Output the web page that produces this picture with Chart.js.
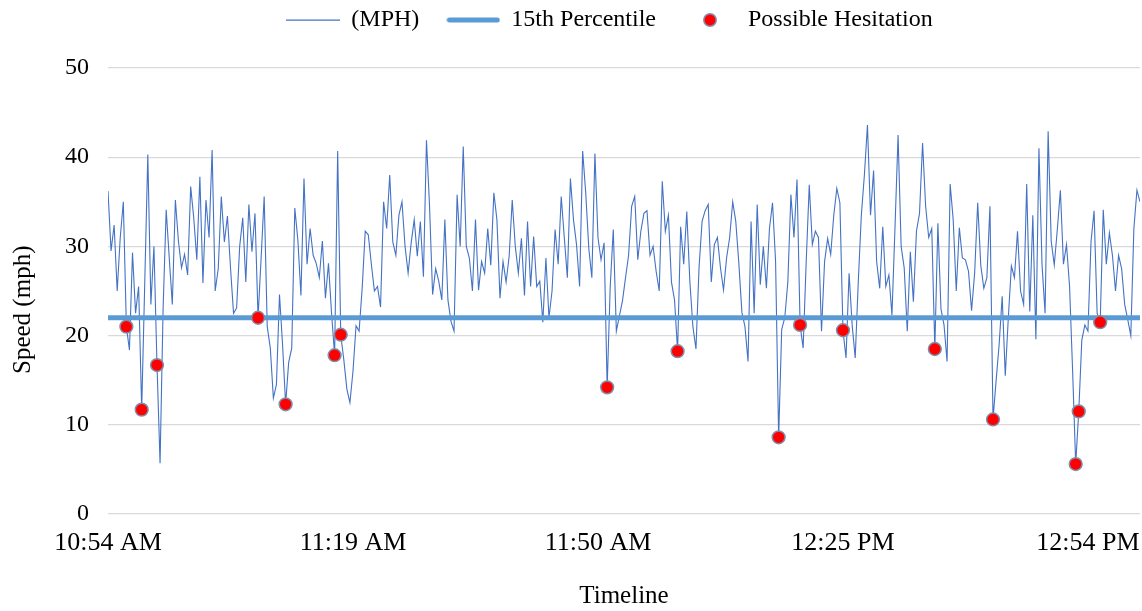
<!DOCTYPE html>
<html>
<head>
<meta charset="utf-8">
<script src="https://cdn.jsdelivr.net/npm/chart.js@4"></script>
<style>
    html, body { margin: 0; padding: 0; background: #fff; }
</style>
</head>
<body>
<canvas id="graficoVelocidade" width="1142" height="611"></canvas>
<script>
// Speed samples (mph), one per step along the timeline
const mph = [
    36.2, 29.5, 32.4, 25.0, 31.0, 35.0, 21.0, 18.4, 29.3, 22.5,
    25.5, 11.7, 25.9, 40.3, 23.5, 30.0, 16.7, 5.7, 23.1, 34.1,
    28.7, 23.5, 35.2, 30.6, 27.6, 29.1, 26.8, 36.7, 33.2, 28.5,
    37.8, 25.9, 35.2, 31.0, 40.8, 25.0, 27.5, 35.6, 30.5, 33.4,
    27.6, 22.5, 23.1, 30.0, 33.2, 26.0, 34.7, 29.4, 33.7, 22.0,
    28.7, 35.6, 21.0, 18.6, 13.0, 14.5, 24.6, 19.0, 12.3, 17.0,
    18.6, 34.3, 30.7, 24.5, 37.6, 28.0, 32.0, 29.0, 28.1, 26.5,
    30.6, 24.2, 28.1, 22.5, 17.8, 40.7, 20.1, 17.3, 14.0, 12.5,
    16.0, 21.1, 20.5, 25.3, 31.7, 31.3, 28.0, 25.0, 25.5, 23.2,
    35.0, 32.0, 38.0, 30.5, 29.0, 33.5, 35.0, 30.0, 27.0, 30.4,
    33.0, 28.9, 32.8, 26.6, 41.9, 34.5, 24.6, 27.5, 26.1, 24.0,
    33.0, 24.0, 21.6, 20.5, 35.8, 30.0, 41.2, 30.0, 28.7, 25.0,
    33.0, 25.1, 28.3, 27.0, 32.0, 27.9, 36.0, 33.0, 24.2, 28.3,
    26.0, 28.9, 35.2, 30.0, 27.0, 30.9, 24.5, 32.8, 25.5, 31.1,
    25.5, 26.1, 21.5, 28.7, 22.0, 25.0, 31.9, 28.0, 35.6, 31.0,
    26.5, 37.6, 33.0, 30.2, 25.5, 40.7, 36.0, 29.8, 26.5, 40.4,
    31.0, 28.5, 30.4, 14.2, 25.5, 31.9, 20.5, 22.2, 23.9, 26.5,
    29.0, 34.5, 35.6, 28.5, 31.7, 33.7, 34.0, 29.0, 30.0, 27.2,
    25.0, 37.3, 31.7, 33.5, 26.0, 24.0, 18.25, 32.2, 28.0, 33.9,
    26.1, 21.0, 18.5, 27.6, 32.8, 34.0, 34.7, 26.0, 30.2, 31.0,
    27.6, 25.1, 28.7, 31.0, 35.0, 32.8, 28.1, 22.6, 21.0, 17.1,
    32.8, 22.5, 34.7, 25.7, 30.0, 25.3, 32.0, 34.9, 28.3, 8.6,
    20.7, 22.0, 26.0, 35.8, 31.0, 37.5, 21.2, 18.6, 28.3, 36.9,
    30.2, 31.7, 31.0, 20.5, 28.3, 30.9, 29.1, 33.5, 36.5, 34.9,
    20.6, 17.5, 27.0, 21.2, 17.5, 26.0, 33.5, 38.0, 43.6, 33.5,
    38.5, 28.3, 25.3, 32.2, 25.5, 26.8, 22.3, 32.2, 42.5, 30.0,
    27.6, 20.5, 29.4, 23.8, 31.7, 33.7, 41.6, 34.5, 31.0, 32.0,
    18.5, 32.6, 23.0, 21.2, 17.1, 37.0, 33.0, 25.0, 32.1, 28.7,
    28.5, 27.2, 22.8, 27.0, 34.9, 27.9, 25.3, 26.5, 34.5, 10.6,
    14.9, 19.0, 24.4, 15.5, 22.0, 27.8, 26.5, 31.7, 25.0, 23.5,
    37.0, 22.7, 33.5, 19.6, 41.0, 28.0, 22.5, 42.9, 30.6, 27.9,
    31.9, 36.3, 28.0, 30.2, 25.5, 16.0, 5.6, 11.5, 19.5, 21.2,
    20.5, 30.5, 34.0, 22.5, 21.5, 34.1, 28.0, 31.5, 29.0, 25.0,
    29.0, 27.5, 23.5, 21.8, 20.0, 32.0, 36.3, 35.0
];

// Steps flagged as possible hesitation
const hesitacoes = [6, 11, 16, 49, 58, 74, 76, 163, 186, 219, 226, 240, 270, 289, 316, 317, 324];

// 15th percentile speed (mph)
const percentil15 = 22;

// Timeline labels, one every passoRotulo steps
const rotulosTempo = ['10:54 AM', '11:19 AM', '11:50 AM', '12:25 PM', '12:54 PM'];
const passoRotulo = 80;

const fonte = "'Liberation Serif', 'Times New Roman', serif";
const corLinha = '#4472c4';
const corPercentil = '#5b9bd5';
const corPonto = '#ff0000';
const corBordaPonto = '#7f8fae';

// Small legend icons drawn on their own canvas
function iconeLegenda(tipo) {
    const c = document.createElement('canvas');
    const ctx = c.getContext('2d');
    if (tipo === 'ponto') {
        c.width = 16; c.height = 16;
        ctx.beginPath();
        ctx.arc(8, 8, 6.2, 0, Math.PI * 2);
        ctx.fillStyle = corPonto;
        ctx.fill();
        ctx.lineWidth = 1.5;
        ctx.strokeStyle = corBordaPonto;
        ctx.stroke();
    } else {
        const grossa = tipo === 'percentil';
        c.width = 54; c.height = 10;
        ctx.beginPath();
        ctx.moveTo(grossa ? 3 : 0, 5);
        ctx.lineTo(grossa ? 51 : 54, 5);
        ctx.lineWidth = grossa ? 5 : 1.25;
        ctx.lineCap = grossa ? 'round' : 'butt';
        ctx.strokeStyle = grossa ? corPercentil : corLinha;
        ctx.stroke();
    }
    return c;
}
const icones = [iconeLegenda('linha'), iconeLegenda('percentil'), iconeLegenda('ponto')];

// Legend sits above the plot, a bit right of centre
const posicaoLegenda = {
    id: 'posicaoLegenda',
    beforeInit(chart) {
        const fitOriginal = chart.legend.fit;
        chart.legend.fit = function () {
            fitOriginal.call(this);
            this.height = 68;
        };
    },
    afterLayout(chart) {
        chart.legend.left += 40;
        chart.legend.right += 40;
        chart.legend.top -= 20;
        chart.legend.bottom -= 20;
    }
};

const ultimo = mph.length - 1;

new Chart(document.getElementById('graficoVelocidade'), {
    type: 'line',
    data: {
        datasets: [{
            label: '(MPH)',
            data: mph.map((v, i) => ({ x: i, y: v })),
            borderColor: corLinha,
            borderWidth: 1.1,
            pointRadius: 0,
            tension: 0,
            order: 2
        }, {
            label: '15th Percentile',
            data: [{ x: 0, y: percentil15 }, { x: ultimo, y: percentil15 }],
            borderColor: corPercentil,
            borderWidth: 5,
            pointRadius: 0,
            order: 1
        }, {
            label: 'Possible Hesitation',
            data: hesitacoes.map(i => ({ x: i, y: mph[i] })),
            showLine: false,
            pointRadius: 6.4,
            pointBorderWidth: 1.5,
            pointBackgroundColor: corPonto,
            pointBorderColor: corBordaPonto,
            order: 0
        }]
    },
    options: {
        responsive: false,
        animation: false,
        devicePixelRatio: 1,
        layout: { autoPadding: false, padding: { left: 0, right: 2, top: 0, bottom: 0 } },
        plugins: {
            tooltip: { enabled: false },
            legend: {
                position: 'top',
                labels: {
                    usePointStyle: true,
                    pointStyleWidth: 52,
                    padding: 28,
                    color: '#000',
                    font: { family: fonte, size: 24 },
                    sort: (a, b) => a.datasetIndex - b.datasetIndex,
                    generateLabels(chart) {
                        return chart.data.datasets.map((ds, i) => ({
                            text: ds.label,
                            datasetIndex: i,
                            pointStyle: icones[i],
                            fontColor: '#000',
                            fillStyle: 'transparent',
                            strokeStyle: 'transparent',
                            lineWidth: 0,
                            hidden: false
                        }));
                    }
                }
            }
        },
        scales: {
            x: {
                type: 'linear',
                min: 0,
                max: ultimo,
                grid: { display: false, drawTicks: false },
                border: { display: false },
                ticks: {
                    stepSize: passoRotulo,
                    includeBounds: false,
                    autoSkip: false,
                    maxRotation: 0,
                    padding: 14,
                    color: '#000',
                    font: { family: fonte, size: 26 },
                    callback: v => rotulosTempo[v / passoRotulo] ?? ''
                },
                title: {
                    display: true,
                    text: 'Timeline',
                    color: '#000',
                    font: { family: fonte, size: 25 },
                    padding: { top: 0, bottom: 0 }
                },
                afterFit(scale) {
                    scale.height = 97;
                    scale.paddingLeft = 0;
                    scale.paddingRight = 0;
                }
            },
            y: {
                min: 0,
                max: 50,
                grid: { color: '#d9d9d9', lineWidth: 1.3, drawTicks: false },
                border: { display: false },
                ticks: {
                    stepSize: 10,
                    padding: 19,
                    color: '#000',
                    font: { family: fonte, size: 24 }
                },
                title: {
                    display: true,
                    // trailing spaces nudge the title below the plot centre, as in the original
                    text: 'Speed (mph)' + '\u00a0'.repeat(6),
                    color: '#000',
                    font: { family: fonte, size: 25 },
                    padding: { top: 8, bottom: 0 }
                },
                afterFit(scale) { scale.width = 108; }
            }
        }
    },
    plugins: [posicaoLegenda]
});
</script>
</body>
</html>
